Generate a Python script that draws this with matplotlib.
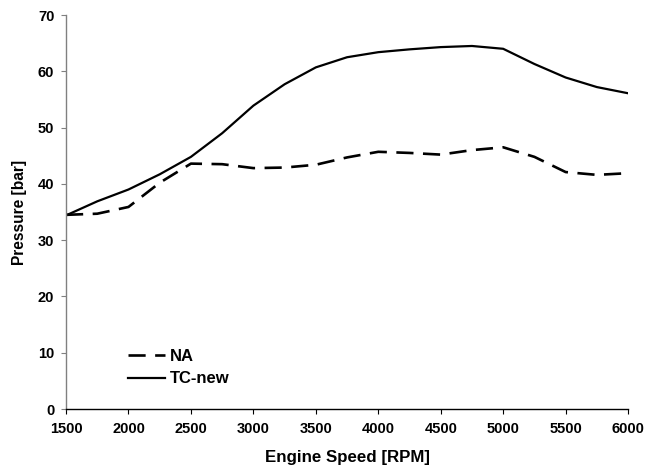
import matplotlib
matplotlib.use("Agg")
import matplotlib.pyplot as plt

plt.rcParams['font.family'] = ['Liberation Sans', 'DejaVu Sans']

rpm = [1500, 1750, 2000, 2250, 2500, 2750, 3000, 3250, 3500, 3750,
       4000, 4250, 4500, 4750, 5000, 5250, 5500, 5750, 6000]
na = [34.5, 34.7, 35.9, 40.2, 43.6, 43.5, 42.8, 42.9, 43.4, 44.7,
      45.7, 45.5, 45.2, 46.0, 46.5, 44.8, 42.1, 41.6, 41.9]
tc_new = [34.4, 36.9, 39.0, 41.7, 44.8, 49.0, 53.9, 57.7, 60.7, 62.5,
          63.4, 63.9, 64.3, 64.5, 64.0, 61.3, 58.9, 57.2, 56.1]

x_ticks = [1500, 2000, 2500, 3000, 3500, 4000, 4500, 5000, 5500, 6000]
y_ticks = [0, 10, 20, 30, 40, 50, 60, 70]

fig = plt.figure(figsize=(6.57, 4.71), dpi=100)
ax = fig.add_axes([0.1005, 0.1316, 0.8555, 0.8365])

ax.plot(rpm, na, color='black', lw=1.9, dashes=(6.5, 3.6), label='NA')
ax.plot(rpm, tc_new, color='black', lw=1.6, label='TC-new')

ax.set_xlim(1500, 6000)
ax.set_ylim(0, 70)
ax.set_xticks(x_ticks)
ax.set_yticks(y_ticks)

for s in ('top', 'right'):
    ax.spines[s].set_visible(False)
ax.spines['left'].set_color('#808080')
ax.spines['bottom'].set_color('black')
ax.spines['left'].set_linewidth(1.0)
ax.spines['bottom'].set_linewidth(1.0)
ax.tick_params(axis='y', direction='out', length=3.4, color='#808080',
               labelsize=10.5, pad=5)
ax.tick_params(axis='x', direction='out', length=3.4, color='black',
               labelsize=10.5, pad=6)
for lbl in ax.get_xticklabels() + ax.get_yticklabels():
    lbl.set_fontweight('bold')

ax.set_xlabel('Engine Speed [RPM]', fontsize=12.2, fontweight='bold')
ax.set_ylabel('Pressure [bar]', fontsize=11.2, fontweight='bold')
ax.xaxis.set_label_coords(0.5, -0.1218)
ax.xaxis.label.set_va('center')
ax.yaxis.set_label_coords(-0.0824, 0.5)
ax.yaxis.label.set_va('center')

leg = ax.legend(loc='center left', bbox_to_anchor=(0.111, 0.105),
                frameon=False, borderpad=0, borderaxespad=0,
                handlelength=2.2, handletextpad=0.26, labelspacing=0.45,
                prop={'weight': 'bold', 'size': 12})

fig.savefig('out.png', dpi=100)
